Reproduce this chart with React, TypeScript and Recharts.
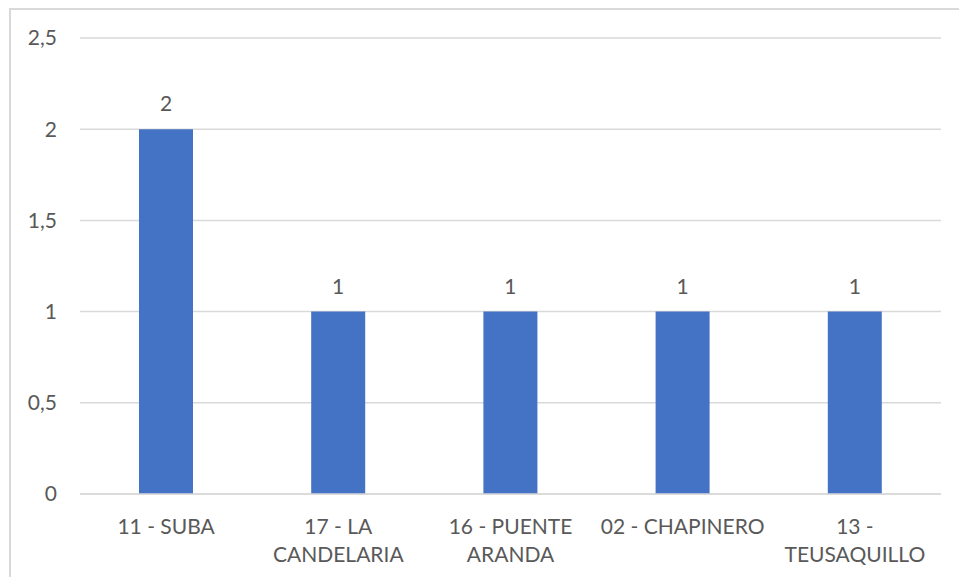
import React from 'react';
import { BarChart, Bar, XAxis, YAxis, CartesianGrid, LabelList } from 'recharts';

// localidades y número de casos
const localidades = ['11 - SUBA', '17 - LA CANDELARIA', '16 - PUENTE ARANDA', '02 - CHAPINERO', '13 - TEUSAQUILLO'];
const casos = [2, 1, 1, 1, 1];
const yTicks = [0, 0.5, 1, 1.5, 2, 2.5];

const data = localidades.map((name, i) => ({ name, value: casos[i] }));

const FONT = 'Lato, "Liberation Sans", sans-serif';
const TEXT_COLOR = '#595959';
const MAX_CHARS = 14;

// corta el texto por palabras sin pasar de MAX_CHARS por línea
function wrapWords(text: string): string[] {
  const lines: string[] = [];
  let current = '';
  for (const word of text.split(' ')) {
    const next = current ? current + ' ' + word : word;
    if (next.length > MAX_CHARS && current) {
      lines.push(current);
      current = word;
    } else {
      current = next;
    }
  }
  if (current) lines.push(current);
  return lines;
}

// etiqueta del eje X partida en varias líneas
function WrappedTick(props: any) {
  const { x, y, payload } = props;
  const lines = wrapWords(String(payload.value));
  return (
    <text
      x={x}
      y={y}
      textAnchor="middle"
      fill={TEXT_COLOR}
      style={{ fontSize: 21, fontFamily: FONT }}
    >
      {lines.map((line, i) => (
        <tspan key={i} x={x} dy={i === 0 ? '0.71em' : 28}>
          {line}
        </tspan>
      ))}
    </text>
  );
}

export default function App() {
  return (
    <div style={{ position: 'fixed', inset: 0, overflow: 'hidden', background: '#fff' }}>
      {/* marco del gráfico */}
      <div
        style={{
          position: 'absolute',
          left: 9,
          top: 8,
          width: 1000,
          height: 620,
          border: '2px solid #D9D9D9',
          boxSizing: 'border-box',
        }}
      />
      <div style={{ position: 'absolute', left: 0, top: 0 }}>
        <BarChart width={959} height={577} data={data} margin={{ top: 38, right: 18, bottom: 0, left: 0 }}>
          <CartesianGrid vertical={false} stroke="#D9D9D9" strokeWidth={1.5} />
          <XAxis
            dataKey="name"
            height={83}
            axisLine={{ stroke: '#D9D9D9', strokeWidth: 1.5 }}
            tickLine={false}
            tickMargin={19}
            interval={0}
            tick={<WrappedTick />}
          />
          <YAxis
            width={80}
            domain={[0, 2.5]}
            ticks={yTicks}
            axisLine={false}
            tickLine={false}
            tickMargin={17}
            tickFormatter={(v: number) => String(v).replace('.', ',')}
            tick={{ fill: TEXT_COLOR, fontSize: 21, fontFamily: FONT }}
          />
          <Bar dataKey="value" fill="#4472C4" barSize={54} isAnimationActive={false}>
            <LabelList
              dataKey="value"
              position="top"
              offset={18}
              fill={TEXT_COLOR}
              style={{ fontSize: 21, fontFamily: FONT }}
            />
          </Bar>
        </BarChart>
      </div>
    </div>
  );
}
